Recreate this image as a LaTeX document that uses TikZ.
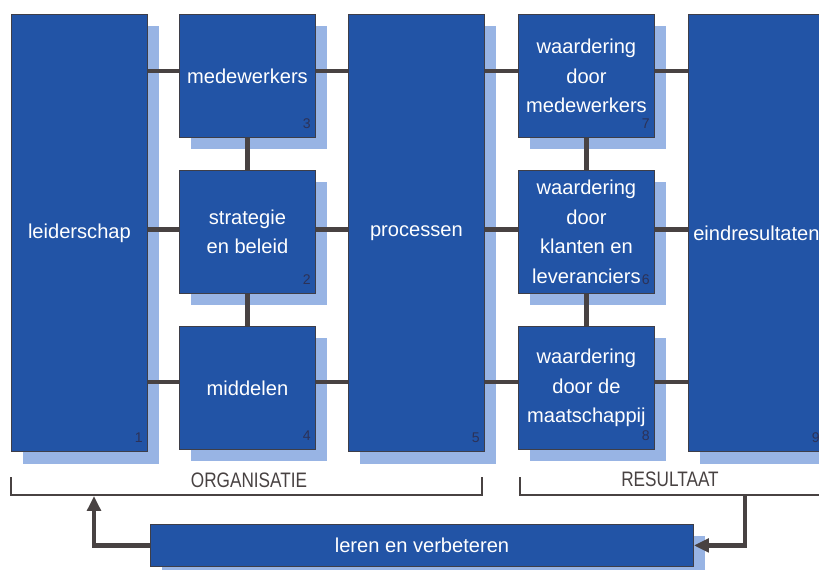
\documentclass[tikz,border=0pt]{standalone}
\usepackage{fontspec}
\setmainfont{Liberation Sans}
\newfontfamily\kopfont[FakeStretch=0.82]{Liberation Sans}
\usetikzlibrary{shadows,arrows.meta}

\definecolor{blauw}{RGB}{34,84,166}
\definecolor{schaduw}{RGB}{152,180,228}
\definecolor{rand}{RGB}{62,62,72}
\definecolor{lijngrijs}{RGB}{72,66,66}
\definecolor{cijfer}{RGB}{44,50,88}

\begin{document}
\begin{tikzpicture}[x=0.025cm,y=-0.025cm,
    blok/.style={rectangle,draw=rand,line width=0.6pt,fill=blauw,text=white,align=center,inner sep=0pt,anchor=north west,
      font=\fontsize{14.3}{21}\selectfont,
      general shadow={fill=schaduw,shadow xshift=0.29cm,shadow yshift=-0.3cm}},
    hoog/.style={blok,minimum width=3.4cm,minimum height=10.925cm},
    laag/.style={blok,minimum width=3.4cm,minimum height=3.075cm},
    lijn/.style={draw=lijngrijs,line width=3pt},
    haak/.style={draw=lijngrijs,line width=1.6pt},
    pijl/.style={lijn,-{Triangle[length=10.5pt,width=9.5pt]}},
    kop/.style={font=\kopfont\fontsize{14.9}{18}\selectfont,text=lijngrijs},
    nummer/.style={font=\fontsize{10}{12}\selectfont,text=cijfer,anchor=south east,inner sep=0pt}]
    \useasboundingbox (0,0) rectangle (819,570);
    \clip (0,0) rectangle (819,570);

    % organisatie
    \node[hoog] (leiderschap) at (11,14) {leiderschap};
    \node[laag] (medewerkers) at (179,14) {medewerkers};
    \node[laag] (strategie) at (179,170) {strategie\\en beleid};
    \node[laag] (middelen) at (179,326) {middelen};
    \node[hoog] (processen) at (348,14) {processen};
    % resultaat
    \node[laag] (wmedewerkers) at (518,14) {waardering\\door\\medewerkers};
    \node[laag] (wklanten) at (518,170) {waardering\\door\\klanten en\\leveranciers};
    \node[laag] (wmaatschappij) at (518,326) {waardering\\door de\\maatschappij};
    \node[hoog] (eindresultaten) at (688,14) {eindresultaten};
    \node[blok,minimum width=13.575cm,minimum height=1.05cm] (leren) at (150,524) {leren en verbeteren};

    \foreach \n/\c in {leiderschap/1,strategie/2,medewerkers/3,middelen/4,processen/5,
                       wklanten/6,wmedewerkers/7,wmaatschappij/8,eindresultaten/9}
      \node[nummer] (nr\c) at ([xshift=-0.12cm,yshift=0.22cm]\n.south east) {\c};

    % rijen voor de verbindingen
    \coordinate (rij1) at (0,71);
    \coordinate (rij2) at (0,229.5);
    \coordinate (rij3) at (0,382);
    \foreach \a/\b/\r in {leiderschap/medewerkers/rij1,leiderschap/strategie/rij2,leiderschap/middelen/rij3,
                          medewerkers/processen/rij1,strategie/processen/rij2,middelen/processen/rij3,
                          processen/wmedewerkers/rij1,processen/wklanten/rij2,processen/wmaatschappij/rij3,
                          wmedewerkers/eindresultaten/rij1,wklanten/eindresultaten/rij2,wmaatschappij/eindresultaten/rij3}
      \draw[lijn] (\a.east |- \r) -- (\b.west |- \r);
    \draw[lijn] (medewerkers) -- (strategie);
    \draw[lijn] (strategie) -- (middelen);
    \draw[lijn] (wmedewerkers) -- (wklanten);
    \draw[lijn] (wklanten) -- (wmaatschappij);

    % haken onder de kolommen
    \draw[haak] (11,477) |- (482,495) -- (482,477);
    \draw[haak] (520,477) |- (830,495);
    \node[kop] (organisatie) at (249,480) {ORGANISATIE};
    \node[kop] (resultaat) at (670,479) {RESULTAAT};
    \coordinate (orgvoet) at (94,496);
    \coordinate (resvoet) at (745,495);

    % terugkoppeling
    \draw[pijl] (leren.west) -| (orgvoet);
    \draw[pijl] (resvoet) |- (leren.east);
\end{tikzpicture}
\end{document}
